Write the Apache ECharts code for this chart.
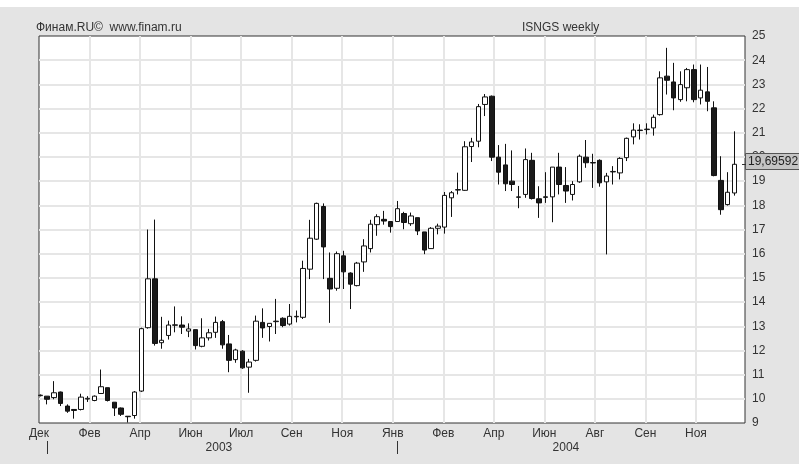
<!DOCTYPE html>
<html>
<head>
<meta charset="utf-8">
<script src="https://cdn.jsdelivr.net/npm/echarts@6/dist/echarts.min.js"></script>
<style>
html,body{margin:0;padding:0;background:#fff;}
#c{width:799px;height:464px;}
</style>
</head>
<body>
<div id="c"></div>
<script>
// Weekly OHLC, ISNGS, Dec 2002 – Dec 2004
const opens  = [10.13,10.11,10.05,10.28,9.70,9.56,9.56,9.99,9.93,10.22,10.46,9.86,9.62,9.28,9.31,10.32,12.94,14.96,12.32,12.62,
13.04,13.05,12.80,12.86,12.17,12.52,12.75,13.19,12.27,11.62,11.97,11.31,11.59,13.16,12.99,13.19,13.33,13.09,13.39,13.37,
15.36,16.60,17.95,14.98,14.57,15.91,15.20,14.68,15.66,16.21,17.20,17.42,17.33,17.33,17.66,17.24,17.49,16.90,16.21,17.05,
17.10,18.31,18.63,18.62,20.43,20.65,22.17,22.51,19.99,19.67,19.00,18.33,18.45,19.86,18.27,18.35,18.35,19.58,18.82,18.45,
18.97,19.99,19.75,19.86,18.97,19.38,19.34,19.97,20.83,21.09,21.13,21.20,21.75,23.34,23.10,22.37,22.86,23.61,22.44,22.69,
22.03,19.03,18.03,18.51];
const closes = [10.15,9.98,10.25,9.81,9.49,9.52,10.07,10.02,10.11,10.50,9.93,9.62,9.36,9.26,10.28,12.90,14.96,12.29,12.42,13.05,
13.06,12.96,12.89,12.20,12.52,12.73,13.16,12.23,11.59,12.02,11.28,11.52,13.21,12.93,13.12,13.21,13.03,13.41,13.41,15.39,
16.64,18.08,16.28,14.54,16.00,15.25,14.74,15.61,16.32,17.22,17.53,17.35,17.12,17.86,17.29,17.56,16.94,16.15,17.05,17.14,
18.41,18.52,18.65,20.42,20.62,22.08,22.48,19.99,19.37,18.89,18.86,18.35,19.89,18.28,18.10,18.33,19.58,18.86,18.59,18.86,
20.03,19.76,19.77,18.93,19.21,19.40,19.94,20.77,21.11,21.11,21.15,21.64,23.27,23.17,22.44,22.99,23.61,22.37,22.76,22.30,
19.23,17.82,18.54,19.69592];
const lows   = [10.10,9.77,9.98,9.70,9.42,9.18,9.52,9.87,9.90,10.20,9.89,9.29,9.29,9.02,9.18,10.28,12.90,12.20,12.07,12.45,
12.75,12.68,12.55,12.04,12.13,12.41,12.52,12.07,11.10,11.49,11.24,10.25,11.54,12.52,12.37,12.68,12.96,13.03,13.16,13.30,
14.95,16.57,14.95,13.14,14.47,14.54,13.71,14.65,15.25,16.05,16.74,17.20,16.87,17.33,17.01,17.15,16.77,15.98,16.20,16.80,
16.83,17.52,18.45,18.60,19.79,20.40,21.69,19.83,18.86,18.59,18.59,17.88,18.31,18.24,17.48,18.10,17.30,18.45,18.10,18.20,
18.93,19.55,18.72,18.77,15.97,18.86,19.07,19.83,20.52,20.72,20.93,20.88,21.71,22.58,21.93,22.28,22.30,22.26,22.17,21.89,
19.20,17.61,17.99,18.40];
const highs  = [10.18,10.11,10.73,10.30,9.77,9.56,10.21,10.11,10.14,11.21,10.46,9.86,9.64,9.28,10.32,12.94,17.00,17.41,13.39,13.23,
13.82,13.41,13.12,12.86,13.33,12.89,13.40,13.26,12.64,12.07,12.01,11.65,13.44,13.74,13.12,14.13,13.37,13.92,13.65,15.71,
17.40,18.11,18.08,16.05,16.09,16.12,15.23,15.66,16.60,17.40,17.63,17.77,17.33,18.18,17.73,17.70,17.49,16.90,17.10,17.24,
18.55,18.59,19.35,20.65,20.79,22.19,22.60,22.54,20.49,20.54,20.27,18.80,20.35,20.17,18.79,19.37,19.58,20.17,19.58,19.00,
20.10,20.70,20.13,19.90,19.34,19.62,19.99,20.80,21.39,21.35,21.39,21.75,23.54,24.51,23.89,23.54,23.68,23.82,23.82,23.72,
22.30,20.03,19.37,21.06];
const monthLabels = ['Дек','Фев','Апр','Июн','Июл','Сен','Ноя','Янв','Фев','Апр','Июн','Авг','Сен','Ноя'];
const yearLabels = ['2003','2004'];
const lastPriceText = '19,69592';

const FONT = 'Liberation Sans, Arial, sans-serif';
const FS = 12;
const X_SHIFT = 0.2;      // bar centre offset within axis units
const X_STEP = 7.5;       // bars between vertical grid lines
const X_MAX = 104.78;

const candleData = opens.map((o, i) => [i + X_SHIFT, o, closes[i], lows[i], highs[i]]);

const chart = echarts.init(document.getElementById('c'), null, {renderer: 'canvas'});
chart.setOption({
  backgroundColor: '#e4e4e4',
  animation: false,
  textStyle: {fontFamily: FONT},
  title: [
    {text: 'Финам.RU©  www.finam.ru', left: 36, top: 22, padding: 0, textStyle: {fontSize: FS, fontWeight: 'normal', color: '#333', fontFamily: FONT}},
    {text: 'ISNGS weekly', left: 522, top: 22, padding: 0, textStyle: {fontSize: FS, fontWeight: 'normal', color: '#333', fontFamily: FONT}}
  ],
  grid: {left: 39, top: 36, width: 706, height: 387, show: true, backgroundColor: '#fff', borderColor: '#333', borderWidth: 1},
  xAxis: {
    type: 'value', min: 0, max: X_MAX, interval: X_STEP,
    axisLine: {show: false}, axisTick: {show: false},
    splitLine: {show: true, showMinLine: false, showMaxLine: false, lineStyle: {color: '#e6e6e6', width: 2}},
    axisLabel: {
      show: true, margin: 5, color: '#333', fontSize: FS, fontFamily: FONT,
      showMinLabel: true, showMaxLabel: true,
      formatter: function (v) {
        const k = Math.round(v / X_STEP);
        if (Math.abs(v - k * X_STEP) > 1e-6) return '';
        return monthLabels[k] || '';
      }
    }
  },
  yAxis: {
    type: 'value', position: 'right', min: 9, max: 25, interval: 1,
    axisLine: {show: false}, axisTick: {show: false},
    splitLine: {show: true, showMinLine: false, showMaxLine: false, lineStyle: {color: '#e6e6e6', width: 2}},
    axisLabel: {margin: 7, color: '#333', fontSize: FS, fontFamily: FONT}
  },
  series: [{
    type: 'candlestick',
    data: candleData,
    barWidth: 5,
    itemStyle: {color: '#ffffff', color0: '#1a1a1a', borderColor: '#111', borderColor0: '#111', borderWidth: 1}
  }]
});

function px(xv, yv) { return chart.convertToPixel({gridIndex: 0}, [xv, yv]); }
const yearTickIdx = [1, 53];
const yearLabelPos = [26.7, 78.2];
const lastClose = closes[closes.length - 1];
const pLast = px(X_MAX, lastClose);
const graphics = [
  {type: 'rect', shape: {x: 0, y: 0, width: 799, height: 7}, style: {fill: '#fff'}, silent: true}
];
yearTickIdx.forEach(function (b) {
  const p = px(b + X_SHIFT, 9);
  const x = Math.round(p[0]) + 0.5;
  graphics.push({type: 'line', shape: {x1: x, y1: 441, x2: x, y2: 454}, style: {stroke: '#333', lineWidth: 1}});
});
yearLabelPos.forEach(function (b, i) {
  const p = px(b, 9);
  graphics.push({type: 'text', x: p[0], y: 448, style: {text: yearLabels[i], fill: '#333', font: FS + 'px ' + FONT, textAlign: 'center', textVerticalAlign: 'middle'}});
});
const yl = Math.round(pLast[1]);
graphics.push({type: 'rect', shape: {x: 745.5, y: yl - 10.5, width: 60, height: 16}, style: {fill: '#c4c4c4', stroke: '#555', lineWidth: 1}, z: 10});
graphics.push({type: 'line', shape: {x1: 742, y1: yl + 0.5, x2: 746, y2: yl + 0.5}, style: {stroke: '#333', lineWidth: 1}, z: 11});
graphics.push({type: 'text', x: 748, y: yl - 2, style: {text: lastPriceText, fill: '#222', font: FS + 'px ' + FONT, textAlign: 'left', textVerticalAlign: 'middle'}, z: 11});
chart.setOption({graphic: graphics});
</script>
</body>
</html>
